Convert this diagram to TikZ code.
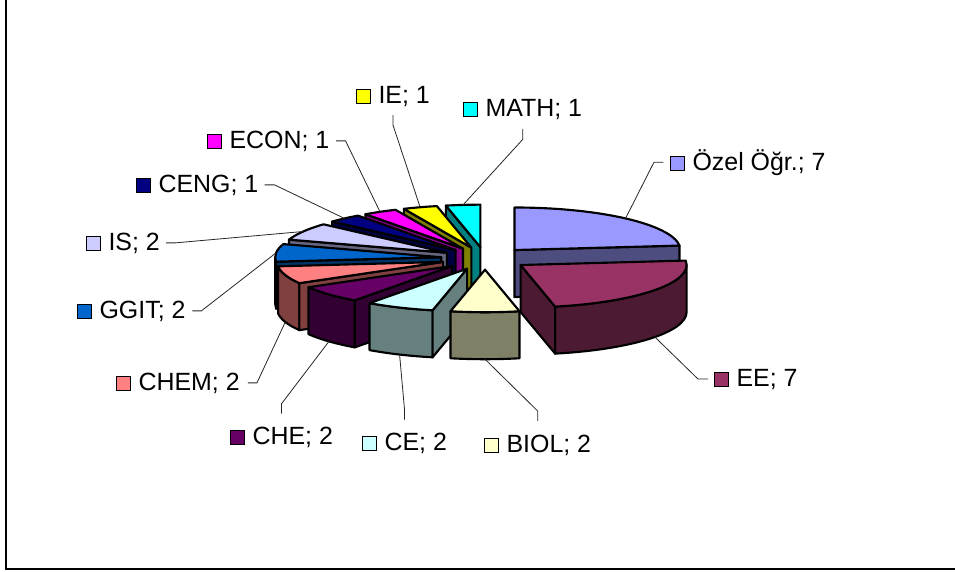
\documentclass[tikz,border=0pt]{standalone}
\usepackage{fontspec}
\setmainfont{Liberation Sans}

\definecolor{ozelTop}{HTML}{9999FF}\definecolor{ozelSide}{HTML}{4D4D80}
\definecolor{eeTop}{HTML}{993366}\definecolor{eeSide}{HTML}{4D1A33}
\definecolor{biolTop}{HTML}{FFFFCC}\definecolor{biolSide}{HTML}{808066}
\definecolor{ceTop}{HTML}{CCFFFF}\definecolor{ceSide}{HTML}{668080}
\definecolor{cheTop}{HTML}{660066}\definecolor{cheSide}{HTML}{330033}
\definecolor{chemTop}{HTML}{FF8080}\definecolor{chemSide}{HTML}{804040}
\definecolor{ggitTop}{HTML}{0066CC}\definecolor{ggitSide}{HTML}{003366}
\definecolor{isTop}{HTML}{CCCCFF}\definecolor{isSide}{HTML}{666680}
\definecolor{cengTop}{HTML}{000080}\definecolor{cengSide}{HTML}{000040}
\definecolor{econTop}{HTML}{FF00FF}\definecolor{econSide}{HTML}{800080}
\definecolor{ieTop}{HTML}{FFFF00}\definecolor{ieSide}{HTML}{808000}
\definecolor{mathTop}{HTML}{00FFFF}\definecolor{mathSide}{HTML}{008080}

\newcommand{\legkey}[1]{{\setlength{\fboxsep}{0pt}\setlength{\fboxrule}{0.8pt}%
  \fcolorbox{black}{#1}{\rule{0pt}{9.8pt}\rule{9.8pt}{0pt}}}\hspace{5.3pt}}

\tikzset{
  face/.style={draw=black, line width=1.6pt, line join=round},
  rim/.style={x radius=124.5pt, y radius=31.9pt},
  lab/.style={anchor=base west, inner sep=0pt, font=\fontsize{18.7}{22}\selectfont},
  leader/.style={draw=black!85, line width=0.6pt},
  frame/.style={line width=1.6pt}
}

\begin{document}
\begin{tikzpicture}[x=0.75pt, y=0.75pt]
\useasboundingbox (0,0) rectangle (955,-571);
\draw[frame] (6,0) -- (6,-569) -- (955,-569);

\coordinate (C) at (485,-258.4);

% slices, back to front
\foreach \n/\ta/\tb/\ctop/\cside in {MATH/102/90/mathTop/mathSide,
    IE/114/102/ieTop/ieSide, ECON/126/114/econTop/econSide,
    CENG/138/126/cengTop/cengSide, Ozel/90/6/ozelTop/ozelSide,
    IS/162/138/isTop/isSide, GGIT/-174/-198/ggitTop/ggitSide,
    CHEM/-150/-174/chemTop/chemSide, EE/6/-78/eeTop/eeSide,
    CHE/-126/-150/cheTop/cheSide, CE/-102/-126/ceTop/ceSide,
    BIOL/-78/-102/biolTop/biolSide}{
  \pgfmathsetmacro{\tm}{(\ta+\tb)/2}
  \pgfmathsetmacro{\lo}{max(\tb,-180)}
  \pgfmathsetmacro{\hi}{min(\ta,0)}
  \pgfmathtruncatemacro{\vs}{cos(\ta)<0}
  \pgfmathtruncatemacro{\ve}{cos(\tb)>0}
  \pgfmathtruncatemacro{\vo}{\lo<\hi}
  \pgfmathtruncatemacro{\fr}{sin(\tm)<0}
  \begin{scope}[shift={(C)}, shift={(\tm:33pt and 8.45pt)}]
    \ifnum\vo=1
      \filldraw[face, fill=\cside] (\hi:124.5pt and 31.9pt)
        arc[rim, start angle=\hi, end angle=\lo] -- ++(0pt,-35.25pt)
        arc[rim, start angle=\lo, end angle=\hi] -- cycle;
    \fi
    \ifnum\vs=1
      \filldraw[face, fill=\cside] (0,0) -- (\ta:124.5pt and 31.9pt) -- ++(0pt,-35.25pt) -- (0pt,-35.25pt) -- cycle;
    \fi
    \ifnum\ve=1
      \filldraw[face, fill=\cside] (0,0) -- (\tb:124.5pt and 31.9pt) -- ++(0pt,-35.25pt) -- (0pt,-35.25pt) -- cycle;
    \fi
    \filldraw[face, fill=\ctop] (0,0) -- (\ta:124.5pt and 31.9pt)
      arc[rim, start angle=\ta, end angle=\tb] -- cycle;
    \ifnum\fr=1
      \path (\tm:124.5pt and 31.9pt) ++(0pt,-35.25pt) coordinate (k\n);
    \else
      \path (\tm:124.5pt and 31.9pt) coordinate (k\n);
    \fi
  \end{scope}
}

% labels
\node[lab] (lIE)   at (356,-103) {\legkey{ieTop}IE; 1};
\node[lab] (lMATH) at (463,-116) {\legkey{mathTop}MATH; 1};
\node[lab] (lOzel) at (670,-170) {\legkey{ozelTop}Özel Öğr.; 7};
\node[lab] (lECON) at (207,-148) {\legkey{econTop}ECON; 1};
\node[lab] (lCENG) at (136,-192) {\legkey{cengTop}CENG; 1};
\node[lab] (lIS)   at (86,-250)  {\legkey{isTop}IS; 2};
\node[lab] (lGGIT) at (77,-318)  {\legkey{ggitTop}GGIT; 2};
\node[lab] (lCHEM) at (116,-390) {\legkey{chemTop}CHEM; 2};
\node[lab] (lCHE)  at (230,-444) {\legkey{cheTop}CHE; 2};
\node[lab] (lCE)   at (362,-450) {\legkey{ceTop}CE; 2};
\node[lab] (lBIOL) at (484,-452) {\legkey{biolTop}BIOL; 2};
\node[lab] (lEE)   at (714,-386) {\legkey{eeTop}EE; 7};

% leader lines
\draw[leader] ([yshift=-6.5pt]lIE.south) -- ++(0pt,-7.5pt) -- (kIE);
\draw[leader] ([yshift=-7pt]lMATH.south) -- ++(0pt,-8pt) -- (kMATH);
\draw[leader] ([xshift=-5pt]lOzel.west) -- ++(-7pt,0pt) -- (kOzel);
\draw[leader] ([xshift=-4.5pt]lEE.west) -- ++(-7.5pt,0pt) -- (kEE);
\draw[leader] ([xshift=5pt]lECON.east) -- ++(7pt,0pt) -- (kECON);
\draw[leader] ([xshift=4.5pt]lCENG.east) -- ++(7.5pt,0pt) -- (kCENG);
\draw[leader] ([xshift=4.5pt]lIS.east) -- ++(6.75pt,0pt) -- (kIS);
\draw[leader] ([xshift=5pt]lGGIT.east) -- ++(6.75pt,0pt) -- (kGGIT);
\draw[leader] ([xshift=6pt]lCHEM.east) -- ++(6.75pt,0pt) -- (kCHEM);
\draw[leader] ([yshift=9.5pt]lCHE.north) -- ++(0pt,7.5pt) -- (kCHE);
\draw[leader] ([yshift=9.5pt]lCE.north) -- ++(0pt,7pt) -- (kCE);
\draw[leader] ([yshift=10pt]lBIOL.north) -- ++(0pt,7.5pt) -- (kBIOL);
\end{tikzpicture}
\end{document}
